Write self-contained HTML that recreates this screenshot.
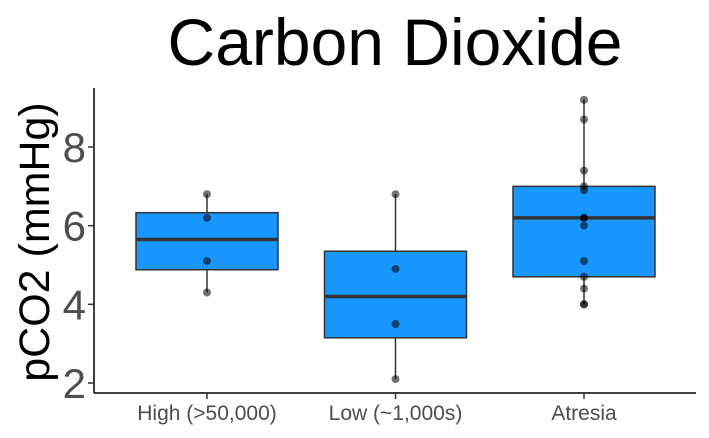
<!DOCTYPE html>
<html><head><meta charset="utf-8"><style>
body{margin:0;background:#fff;}
svg{display:block;font-family:"Liberation Sans",sans-serif;}
</style></head><body>
<svg id="chart" width="709" height="438">
<text x="395" y="65" text-anchor="middle" font-size="66" fill="#000">Carbon Dioxide</text>
<text transform="translate(49,242) rotate(-90)" text-anchor="middle" font-size="43" fill="#000">pCO2 (mmHg)</text>
<g id="plot"></g>
</svg>
<script>
const categories=["High (>50,000)","Low (~1,000s)","Atresia"];
const q1s=[4.88,3.15,4.7];
const medians=[5.65,4.2,6.2];
const q3s=[6.33,5.35,7.0];
const mins=[4.3,2.1,4.0];
const maxs=[6.8,6.8,9.2];
const pointsHigh=[6.8,6.2,5.1,4.3];
const pointsLow=[6.8,4.9,3.5,2.1];
const pointsAtresia=[9.2,8.7,7.4,7.0,6.9,6.2,6.2,6.0,5.1,4.7,4.4,4.0,4.0];
const yTicks=[2,4,6,8];
const points=[pointsHigh,pointsLow,pointsAtresia];
const NS="http://www.w3.org/2000/svg";
const g=document.getElementById('plot');
function y(v){return 383-(v-2)*39.33;}
function x(i){return 207+i*188.5;}
function mk(t,a){const e=document.createElementNS(NS,t);for(const k in a)e.setAttribute(k,a[k]);g.appendChild(e);return e;}
let e;
e=mk('line',{x1:94,y1:88,x2:94,y2:393,stroke:'#000','stroke-width':1.5});


e=mk('line',{x1:94,y1:393,x2:696,y2:393,stroke:'#000','stroke-width':1.5});


yTicks.forEach(t=>{
 e=mk('line',{x1:88,y1:y(t),x2:94,y2:y(t),stroke:'#333','stroke-width':1.5});
 
 
 e=mk('text',{x:86,y:y(t)+15,'text-anchor':'end','font-size':42,fill:'#4d4d4d'});
 e.textContent=t;
 
 
});
categories.forEach((c,i)=>{
 const cx=x(i),hw=71;
 e=mk('line',{x1:cx,y1:y(maxs[i]),x2:cx,y2:y(mins[i]),stroke:'#333','stroke-width':1.5});
 
 
 e=mk('rect',{x:cx-hw,y:y(q3s[i]),width:hw*2,height:y(q1s[i])-y(q3s[i]),fill:'#1a96ff',stroke:'#333','stroke-width':1.5});
 
 
 e=mk('line',{x1:cx-hw,y1:y(medians[i]),x2:cx+hw,y2:y(medians[i]),stroke:'#333','stroke-width':3.5});
 
 
 points[i].forEach(v=>{
  e=mk('circle',{cx:cx,cy:y(v),r:4,fill:'rgba(0,0,0,0.55)'});
  
  
 });
 e=mk('line',{x1:cx,y1:393,x2:cx,y2:399,stroke:'#333','stroke-width':1.5});
 
 
 e=mk('text',{x:cx,y:420,'text-anchor':'middle','font-size':21,fill:'#4d4d4d'});
 e.textContent=c;
 
 
});
</script>
</body></html>
